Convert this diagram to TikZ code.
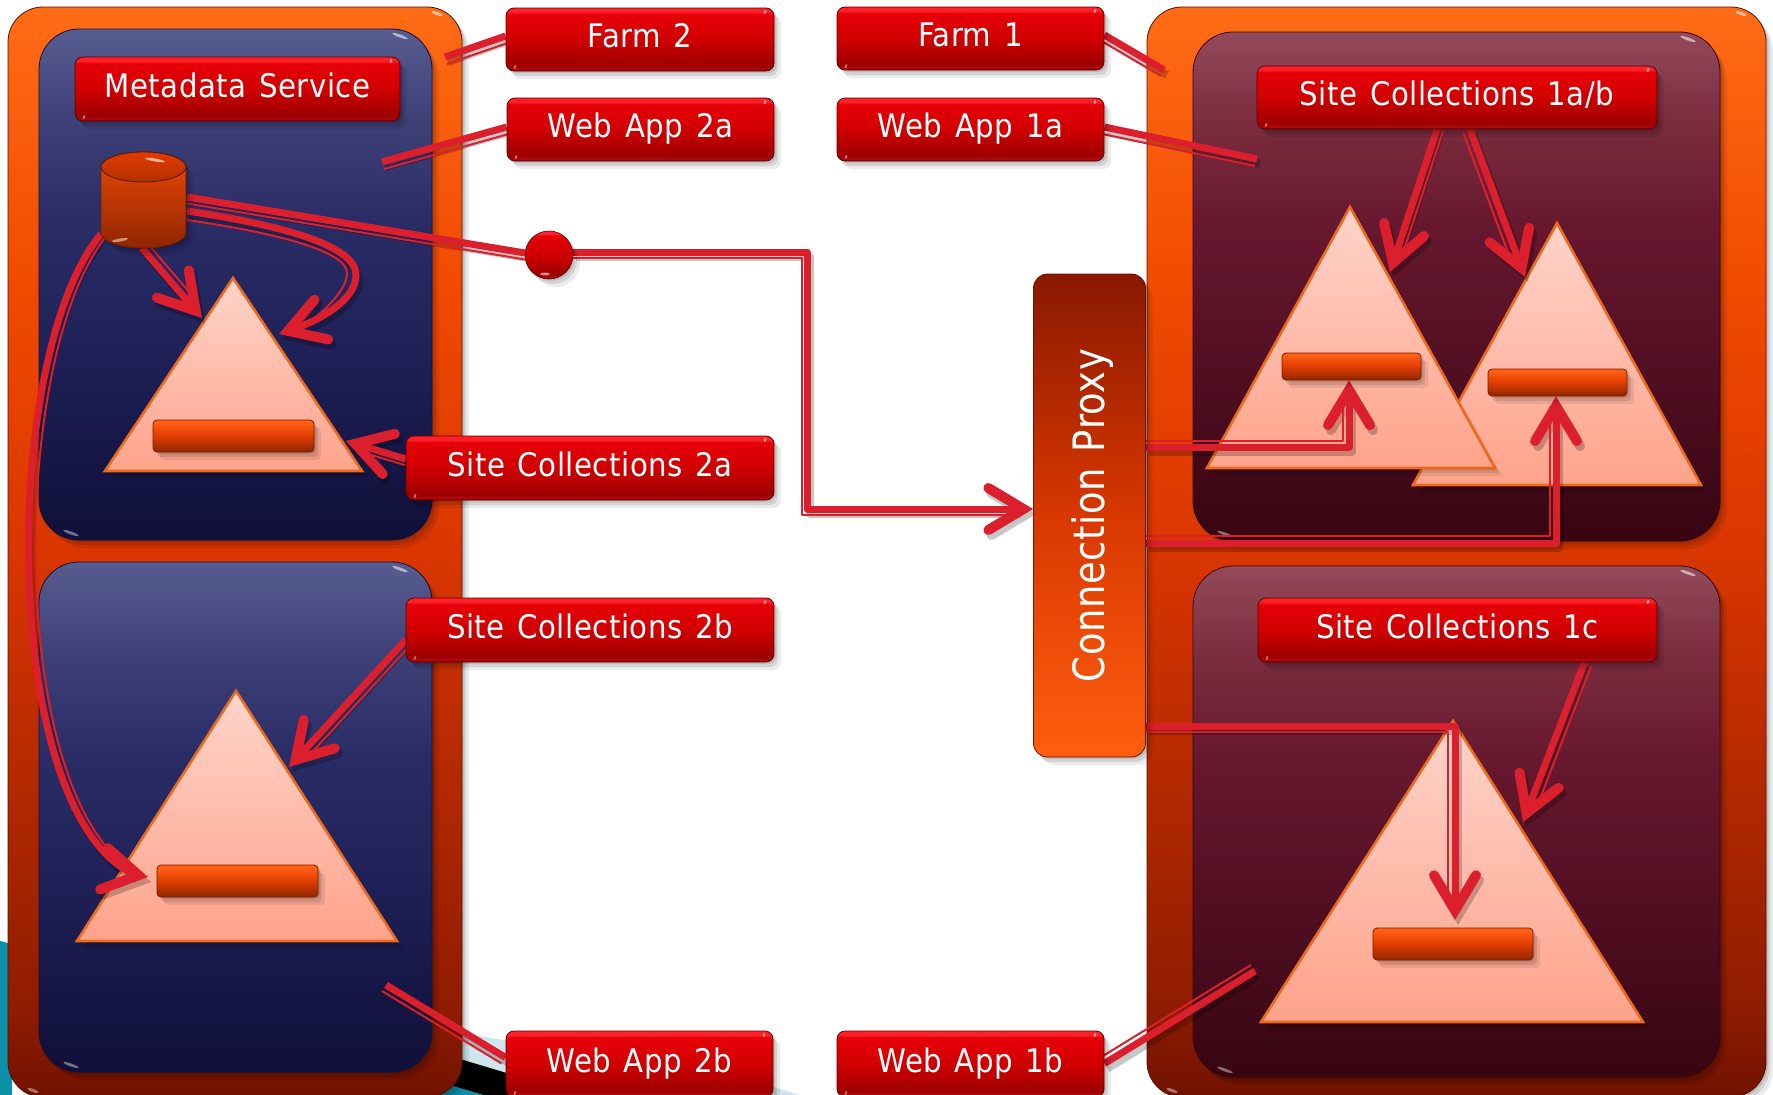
\documentclass[tikz,border=0pt]{standalone}
\usepackage{fontspec}
\setmainfont[LetterSpace=1.5,WordSpace=1.3]{DejaVu Sans Condensed}
\usetikzlibrary{arrows.meta,shadows,calc}
\definecolor{lnred}{HTML}{DC1F2D}
\definecolor{orA}{HTML}{701200}\definecolor{orB}{HTML}{8F1C00}\definecolor{orC}{HTML}{D93600}\definecolor{orD}{HTML}{F04A00}\definecolor{orE}{HTML}{FF6C16}
\definecolor{blA}{HTML}{10103A}\definecolor{blB}{HTML}{13133F}\definecolor{blC}{HTML}{1F2158}\definecolor{blD}{HTML}{2A2C66}\definecolor{blE}{HTML}{3E4178}\definecolor{blF}{HTML}{575C90}
\definecolor{wiA}{HTML}{38050F}\definecolor{wiB}{HTML}{3D0716}\definecolor{wiC}{HTML}{551024}\definecolor{wiD}{HTML}{66182F}\definecolor{wiE}{HTML}{7B2C3E}\definecolor{wiF}{HTML}{934A5B}
\definecolor{reA}{HTML}{8A0000}\definecolor{reB}{HTML}{B00A10}\definecolor{reC}{HTML}{9C0000}\definecolor{reD}{HTML}{D00000}\definecolor{reE}{HTML}{E60008}\definecolor{reF}{HTML}{FF2028}
\definecolor{baA}{HTML}{8F2600}\definecolor{baB}{HTML}{E03C00}\definecolor{baC}{HTML}{FF5E14}
\definecolor{prA}{HTML}{FF5E10}\definecolor{prB}{HTML}{D83800}\definecolor{prC}{HTML}{8A1800}
\definecolor{triT}{HTML}{FFD4CA}\definecolor{triB}{HTML}{FFA38B}\definecolor{triE}{HTML}{EC6A1E}
\definecolor{teal1}{HTML}{0E8FA8}\definecolor{pale1}{HTML}{CFE6EE}
\pgfdeclareverticalshading{orsh}{100bp}{color(0bp)=(orA);color(25bp)=(orA);color(29bp)=(orB);color(50bp)=(orC);color(62bp)=(orD);color(75bp)=(orE);color(100bp)=(orE)}
\pgfdeclareverticalshading{blsh}{100bp}{color(0bp)=(blA);color(25bp)=(blA);color(29bp)=(blB);color(44bp)=(blC);color(56bp)=(blD);color(66bp)=(blE);color(75bp)=(blF);color(100bp)=(blF)}
\pgfdeclareverticalshading{wish}{100bp}{color(0bp)=(wiA);color(25bp)=(wiA);color(29bp)=(wiB);color(44bp)=(wiC);color(56bp)=(wiD);color(66bp)=(wiE);color(75bp)=(wiF);color(100bp)=(wiF)}
\pgfdeclareverticalshading{resh}{100bp}{color(0bp)=(reA);color(25bp)=(reA);color(27bp)=(reB);color(29bp)=(reC);color(50bp)=(reD);color(70bp)=(reE);color(72bp)=(reF);color(75bp)=(reF);color(100bp)=(reF)}
\pgfdeclareverticalshading{bash}{100bp}{color(0bp)=(baA);color(25bp)=(baA);color(50bp)=(baB);color(70bp)=(baC);color(100bp)=(baC)}
\pgfdeclareverticalshading{prsh}{100bp}{color(0bp)=(prA);color(25bp)=(prA);color(50bp)=(prB);color(75bp)=(prC);color(100bp)=(prC)}
\tikzset{
  softsh/.style={general shadow={fill=black,fill opacity=.10,shadow xshift=2pt,shadow yshift=-2pt},
                 general shadow={fill=black,fill opacity=.10,shadow xshift=4pt,shadow yshift=-5pt},
                 general shadow={fill=black,fill opacity=.08,shadow xshift=7pt,shadow yshift=-8pt}},
  gloss/.style n args={4}{path picture={
     \fill[white,opacity=.55] ([xshift=-#1,yshift=-#2]path picture bounding box.north east) ellipse[x radius=#3,y radius=#4,rotate=-20];
     \fill[white,opacity=.4] ([xshift=#1,yshift=#2]path picture bounding box.south west) ellipse[x radius=#3,y radius=#4,rotate=-20];}},
  panel/.style={rectangle,inner sep=0pt,softsh},
  outerp/.style={panel,shading=orsh,draw=orA!80!black,line width=.8pt,rounded corners=35pt,gloss={25pt}{6.5pt}{6pt}{1.6pt}},
  bluep/.style={panel,shading=blsh,draw=blA,line width=.8pt,rounded corners=40pt,gloss={32pt}{7pt}{8pt}{1.5pt}},
  winep/.style={panel,shading=wish,draw=wiA,line width=.8pt,rounded corners=40pt,gloss={32pt}{7pt}{8pt}{1.5pt}},
  redbox/.style={panel,shading=resh,draw=reA!70!black,line width=.8pt,rounded corners=8pt,text=white,gloss={9pt}{4pt}{1.2pt}{2pt},
     font=\fontsize{32.5}{36}\selectfont,text height=24pt,text depth=8pt},
  barbox/.style={panel,shading=bash,draw=baA!80!black,line width=.8pt,rounded corners=4pt},
  proxybox/.style={panel,shading=prsh,draw=prC!80!black,line width=.8pt,rounded corners=14pt,text=white,
     font=\fontsize{32.5}{36}\selectfont},
  tri/.style={top color=triT,bottom color=triB,draw=triE,line width=2.6pt,line join=miter,softsh},
  lnthick/.style={draw=lnred,line width=7pt,line join=round},
  lnthin/.style={draw=lnred,line width=2pt,line join=round},
  lnshadow/.style={draw=black,opacity=.22,line width=8pt,line join=round},
  barb/.style={-{Straight Barb[length=35pt,width=42pt,line width=10pt,line cap=round]}},
  ball/.style={circle,inner sep=0pt,minimum size=48pt,shading=resh,draw=reA!70!black,line width=.6pt,softsh},
}
\newcommand\mybox[7]{\node[#6,minimum width={(#4-#2)*1pt},minimum height={(#5-#3)*1pt}] (#1) at ({(#2+#4)/2},{(#3+#5)/2}) {#7};}
\newcommand\dbl[3]{\draw[lnshadow,transform canvas={shift={(3,5)}}] #3;
  \draw[lnthick] #3;
  \draw[lnthin,transform canvas={shift={(#1,#2)}}] #3;}
\newcommand\dbla[3]{\draw[lnshadow,barb,transform canvas={shift={(3,5)}}] #3;
  \draw[lnthick,barb] #3;
  \draw[lnthin,shorten >=18pt,transform canvas={shift={(#1,#2)}}] #3;}
\pgfdeclarelayer{back}\pgfdeclarelayer{front}\pgfsetlayers{back,main,front}
\begin{document}
\begin{tikzpicture}[x=1pt,y=-1pt]
\useasboundingbox (0,0) rectangle (1773,1095);
\clip (0,0) rectangle (1773,1095);
\begin{pgfonlayer}{back}
  \fill[teal1] (0,941) -- (12,944) -- (12,1095) -- (0,1095) -- cycle;
  \fill[pale1] (455,1032) -- (510,1041) -- (510,1076) -- (455,1058) -- cycle;
  \fill[black] (450,1056) -- (510,1074) -- (510,1095) -- (483,1095) -- (445,1084) -- cycle;
  \fill[teal1] (440,1082) -- (483,1095) -- (440,1095) -- cycle;
  \fill[pale1] (770,1086) -- (800,1095) -- (770,1095) -- cycle;
  \mybox{outerL}{8}{7}{462}{1097}{outerp}{}
  \mybox{outerR}{1147}{7}{1766}{1097}{outerp}{}
  \mybox{blueT}{39}{29}{432}{540}{bluep}{}
  \mybox{blueB}{39}{562}{432}{1072}{bluep}{}
  \mybox{wineT}{1193}{32}{1720}{541}{winep}{}
  \mybox{wineB}{1193}{566}{1720}{1077}{winep}{}
  \path[tri] (233,278) -- (362,471) -- (105,471) -- cycle;
  \path[tri] (236,691) -- (397,941) -- (77,941) -- cycle;
  \path[tri] (1557,223) -- (1701,485) -- (1413,485) -- cycle;
  \path[tri] (1350,207) -- (1495,468) -- (1207,468) -- cycle;
  \path[tri] (1453,721) -- (1643,1022) -- (1261,1022) -- cycle;
\end{pgfonlayer}
\begin{pgfonlayer}{front}
  \mybox{farm2}{506}{8}{774}{71}{redbox}{Farm 2}
  \mybox{web2a}{507}{98}{774}{161}{redbox}{Web App 2a}
  \mybox{farm1}{837}{7}{1104}{70}{redbox}{Farm 1}
  \mybox{web1a}{837}{98}{1104}{161}{redbox}{Web App 1a}
  \mybox{meta}{75}{57}{400}{121}{redbox}{Metadata Service}
  \mybox{sc1ab}{1257}{66}{1657}{129}{redbox}{Site Collections 1a/b}
  \mybox{sc2a}{406}{436}{774}{500}{redbox}{Site Collections 2a}
  \mybox{sc2b}{406}{598}{774}{662}{redbox}{Site Collections 2b}
  \mybox{sc1c}{1258}{598}{1657}{662}{redbox}{Site Collections 1c}
  \mybox{web2b}{506}{1031}{773}{1097}{redbox}{Web App 2b}
  \mybox{web1b}{837}{1031}{1104}{1097}{redbox}{Web App 1b}
  \mybox{proxy}{1033.5}{274}{1145.5}{757}{proxybox}{\hspace*{6pt}\rotatebox{90}{\scalebox{1.26}[1.33]{Connection Proxy}}}
  \mybox{barL1}{153}{420}{314}{452}{barbox}{}
  \mybox{barL2}{157}{865}{318}{897}{barbox}{}
  \mybox{barR1a}{1282}{353}{1421}{380}{barbox}{}
  \mybox{barR1b}{1488}{369}{1627}{396}{barbox}{}
  \mybox{barR2}{1373}{928}{1533}{960}{barbox}{}
  % cylinder
  \path[top color=baC!40!baB,bottom color=baA,draw=baA!80!black,line width=.8pt,softsh] (101,167) -- (101,233) arc[start angle=180,end angle=0,x radius=42.5,y radius=15] -- (186,167) arc[start angle=360,end angle=180,x radius=42.5,y radius=15];
  \path[top color=baB,bottom color=baB!80!black,draw=baA!60!black,line width=.8pt] (143.5,167) ellipse[x radius=42.5,y radius=15];
  \fill[white,opacity=.6] (155,160) ellipse[x radius=10,y radius=1.5,rotate=-10];
  \fill[white,opacity=.5] (120,240) ellipse[x radius=8,y radius=1.5,rotate=10];
  \node[ball] (dot) at (549,255) {};
  \fill[white,opacity=.55] (545,274) ellipse[x radius=5,y radius=1.5];
\end{pgfonlayer}
% free ends and corners
\coordinate (endFarm2) at (445,57);
\coordinate (endWeb2a) at (382,162);
\coordinate (endFarm1) at (1164,70);
\coordinate (endWeb1a) at (1257,159);
\coordinate (endWeb2b) at (386,985);
\coordinate (endWeb1b) at (1255,971);
\coordinate (cylA) at (187,197);
\coordinate (cylB) at (187,211);
\coordinate (cylC) at (142,248);
\coordinate (cylD) at (101,234);
\coordinate (tipDl1) at (202,318);
\coordinate (tipCl1) at (279,334);
\coordinate (tipS2a) at (346,441);
\coordinate (tipS2b) at (289,767);
\coordinate (tipAr1) at (1390,272);
\coordinate (tipBr1) at (1525,277);
\coordinate (tipS1c) at (1523,822);
\coordinate (tipPr2) at (1455,920);
\coordinate (tipL2) at (148,877);
\coordinate (dotIn) at (525,253);
\coordinate (c1) at (807,252);
\coordinate (c2) at (807,509);
\coordinate (c3) at (1349,447);
\coordinate (c4) at (1556,543);
\coordinate (c5) at (1455,726);
% connectors
\dbl{2}{7}{([yshift=3.5pt]farm2.west) -- (endFarm2)}
\dbl{2}{7}{([yshift=2.5pt]web2a.west) -- (endWeb2a)}
\dbl{-3}{6}{([yshift=3.5pt]farm1.east) -- (endFarm1)}
\dbl{-2}{7}{([yshift=2.5pt]web1a.east) -- (endWeb1a)}
\dbl{-4}{6}{([yshift=6.5pt]web2b.west) -- (endWeb2b)}
\dbl{-4}{-6}{([yshift=.5pt]web1b.east) -- (endWeb1b)}
\dbl{0}{6.5}{(cylA) -- (dotIn)}
\dbla{-5}{6}{(dot.east |- c1) -- (c1) -- (c2) -- (proxy.west |- c2)}
\dbla{6}{-4}{(cylC) -- (tipDl1)}
\dbla{-1}{6}{([yshift=9pt]sc2a.west) -- (tipS2a)}
\dbla{4}{6}{([yshift=-10pt]sc2b.west) -- (tipS2b)}
\dbla{6}{2}{([xshift=-20pt]sc1ab.south) -- (tipAr1)}
\dbla{-7}{2.5}{([xshift=13pt]sc1ab.south) -- (tipBr1)}
\dbla{7}{2.7}{([xshift=127pt]sc1c.south) -- (tipS1c)}
\dbla{-6}{-6}{(proxy.east |- c3) -- (c3) -- (c3 |- barR1a.south)}
\dbla{-6}{-7}{(proxy.east |- c4) -- (c4) -- (c4 |- barR1b.south)}
\dbla{-7}{6}{(proxy.east |- c5) -- (c5) -- (tipPr2)}
\dbla{7}{0}{(cylD) .. controls (5,350) and (0,760) .. (112,860) .. controls (120,867) and (132,874) .. (tipL2)}
\draw[lnshadow,barb,transform canvas={shift={(3,5)}}] (cylB) .. controls (280,225) and (356,245) .. (356,275) .. controls (356,300) and (320,320) .. (tipCl1);
\draw[lnthick,barb] (cylB) .. controls (280,225) and (356,245) .. (356,275) .. controls (356,300) and (320,320) .. (tipCl1);
\draw[lnthin] ([yshift=-9pt]cylB) .. controls (270,232) and (347,250) .. (347,273) .. controls (347,290) and (325,310) .. (310,322);
\end{tikzpicture}
\end{document}
